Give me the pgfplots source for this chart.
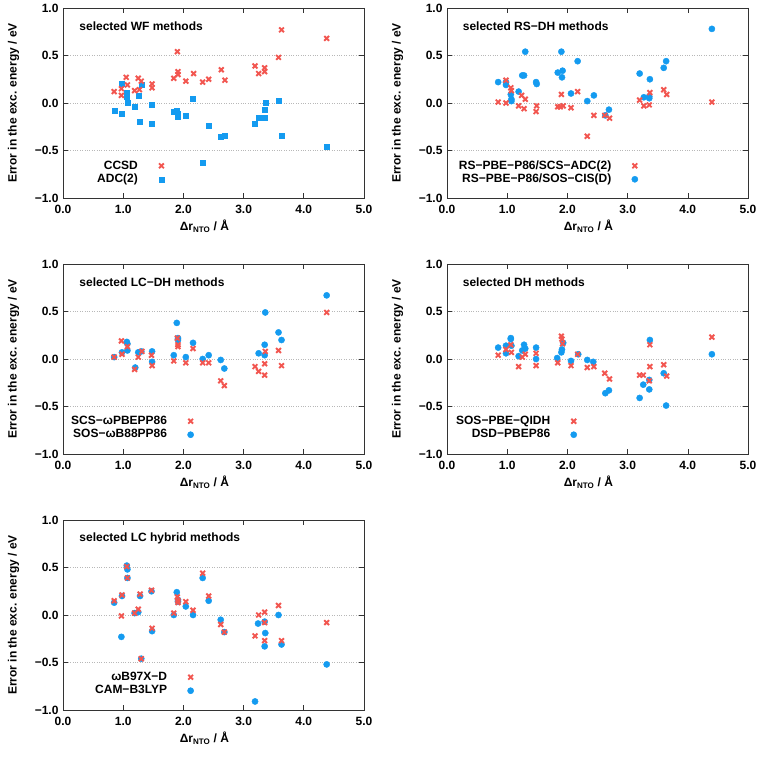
\documentclass[border=0pt]{standalone}
\usepackage{fontspec}
\setmainfont{Liberation Sans}
\usepackage{pgfplots}
\pgfplotsset{compat=1.18}
\definecolor{myred}{RGB}{242,86,80}
\definecolor{myblue}{RGB}{20,155,240}
\newcommand{\lbl}{\fontsize{12}{14}\selectfont\bfseries}
\tikzset{ttl/.style={anchor=west, font=\lbl, inner sep=0pt}}
\pgfplotsset{
 panel/.style={
  scale only axis, width=301pt, height=190pt,
  xmin=0, xmax=5, ymin=-1, ymax=1,
  xtick={0,1,2,3,4,5}, xticklabels={0.0,1.0,2.0,3.0,4.0,5.0},
  ytick={-1,-0.5,0,0.5,1}, yticklabels={−1.0,−0.5,0.0,0.5,1.0},
  tick align=inside, tick pos=both, major tick length=5pt,
  axis line style={black!80, line width=0.7pt}, tick style={black!80, line width=0.6pt},
  ymajorgrids, grid style={dotted, black!28, line width=0.6pt},
  ticklabel style={font=\lbl},
  xticklabel style={yshift=-3.5pt},
  yticklabel style={xshift=-1pt},
  xlabel={Δr\textsubscript{NTO} / Å},
  ylabel={Error in the exc. energy / eV},
  every axis x label/.style={at={(axis description cs:0.47,0)}, anchor=center, yshift=-28pt, font=\lbl},
  every axis y label/.style={at={(axis description cs:-0.164,0.5)}, anchor=center, rotate=90, font=\lbl},
  legend plot pos=right, legend cell align=right, reverse legend,
  legend style={draw=none, fill=none, font=\lbl, anchor=east, inner sep=0pt, row sep=1pt,
    nodes={inner sep=0.5pt, text height=9pt, text depth=2.5pt}},
  legend image code/.code={\path[draw=none,fill=none] (0cm,0cm) -- (0.81cm,0cm); \draw[#1] plot coordinates {(0.81cm,0cm)};},
 },
 redx/.style={only marks, mark=x, mark size=3.4pt, color=myred, mark options={line width=1.9pt}},
 bluesq/.style={only marks, mark=square*, mark size=2.5pt, color=myblue},
 bluec/.style={only marks, mark=*, mark size=3.1pt, color=myblue},
}
\begin{document}
\begin{tikzpicture}
% ---------------- Panel 1: WF ----------------
\begin{axis}[panel, at={(63pt,558pt)}, anchor=south west, legend style={at={(0.336,0.134)}}]
\addplot[bluesq] table {
x y
0.97 0.20
0.86 -0.08
0.98 -0.11
1.06 0.11
1.06 0.07
1.07 0.00
1.19 -0.04
1.25 0.08
1.30 0.19
1.28 -0.20
1.48 -0.02
1.47 -0.22
1.84 -0.09
1.89 -0.08
1.91 -0.11
1.91 -0.14
2.04 -0.13
2.16 0.04
2.42 -0.24
2.32 -0.63
2.62 -0.35
2.68 -0.34
3.19 -0.22
3.25 -0.15
3.35 -0.15
3.35 -0.07
3.36 0.00
3.58 0.02
3.63 -0.34
4.38 -0.46
};
\addlegendentry{ADC(2)}
\addplot[redx] table {
x y
0.85 0.12
0.97 0.15
0.97 0.08
1.05 0.27
1.07 0.19
1.19 0.13
1.25 0.26
1.27 0.14
1.30 0.23
1.48 0.20
1.48 0.16
1.84 0.26
1.90 0.54
1.91 0.33
1.91 0.30
2.04 0.23
2.17 0.31
2.32 0.22
2.42 0.25
2.63 0.35
2.69 0.24
3.19 0.39
3.25 0.31
3.35 0.37
3.35 0.33
3.58 0.48
3.63 0.77
4.38 0.68
};
\addlegendentry{CCSD}
\node[ttl] at (rel axis cs:0.054,0.905) {selected WF methods};
\end{axis}
% ---------------- Panel 2: RS-DH ----------------
\begin{axis}[panel, at={(447pt,558pt)}, anchor=south west, legend style={at={(0.635,0.134)}}]
\addplot[bluec] table {
x y
0.85 0.22
0.98 0.22
0.98 0.19
1.06 0.09
1.07 0.04
1.07 0.02
1.19 0.12
1.25 0.29
1.28 0.29
1.30 0.54
1.48 0.22
1.49 0.20
1.84 0.32
1.90 0.54
1.92 0.34
1.91 0.27
2.06 0.10
2.17 0.44
2.33 0.02
2.44 0.08
2.63 -0.13
2.69 -0.07
3.20 0.31
3.27 0.06
3.36 0.07
3.36 0.05
3.37 0.25
3.60 0.37
3.64 0.44
4.40 0.78
};
\addlegendentry{RS−PBE−P86/SOS−CIS(D)}
\addplot[redx] table {
x y
0.85 0.01
0.98 0.24
0.98 0.00
1.06 0.16
1.07 0.13
1.19 -0.03
1.24 0.08
1.28 -0.06
1.30 0.04
1.49 -0.03
1.48 -0.09
1.84 -0.04
1.90 0.09
1.88 -0.04
1.93 -0.03
2.06 -0.05
2.17 0.12
2.33 -0.35
2.44 -0.13
2.62 -0.13
2.70 -0.16
3.20 0.03
3.27 -0.03
3.36 -0.02
3.37 0.11
3.60 0.14
3.65 0.09
4.40 0.01
};
\addlegendentry{RS−PBE−P86/SCS−ADC(2)}
\node[ttl] at (rel axis cs:0.052,0.905) {selected RS−DH methods};
\end{axis}
% ---------------- Panel 3: LC-DH ----------------
\begin{axis}[panel, at={(63pt,302pt)}, anchor=south west, legend style={at={(0.435,0.137)}}]
\addplot[bluec] table {
x y
0.85 0.02
0.98 0.07
1.06 0.18
1.07 0.16
1.07 0.09
1.20 -0.09
1.25 0.07
1.30 0.08
1.48 0.08
1.48 -0.03
1.84 0.04
1.89 0.38
1.91 0.22
1.91 0.20
2.04 0.02
2.16 0.17
2.32 0.00
2.42 0.04
2.62 -0.01
2.68 -0.10
3.25 0.06
3.35 0.04
3.35 0.15
3.36 0.49
3.58 0.28
3.63 0.20
4.38 0.67
};
\addlegendentry{SOS−ωB88PP86}
\addplot[redx] table {
x y
0.85 0.02
0.97 0.19
0.98 0.05
1.07 0.13
1.19 -0.11
1.25 0.02
1.31 0.08
1.47 0.04
1.48 -0.07
1.84 -0.02
1.90 0.22
1.91 0.15
1.91 0.13
2.04 -0.04
2.16 0.11
2.32 -0.04
2.42 -0.04
2.62 -0.23
2.68 -0.28
3.19 -0.08
3.25 -0.13
3.35 -0.17
3.35 -0.05
3.36 0.08
3.58 0.09
3.63 -0.07
4.38 0.49
};
\addlegendentry{SCS−ωPBEPP86}
\node[ttl] at (rel axis cs:0.054,0.905) {selected LC−DH methods};
\end{axis}
% ---------------- Panel 4: DH ----------------
\begin{axis}[panel, at={(447pt,302pt)}, anchor=south west, legend style={at={(0.432,0.137)}}]
\addplot[bluec] table {
x y
0.85 0.12
0.98 0.14
0.98 0.06
1.06 0.22
1.06 0.21
1.07 0.14
1.19 0.03
1.25 0.09
1.28 0.15
1.30 0.11
1.48 0.12
1.48 0.00
1.83 0.01
1.90 0.07
1.91 0.10
1.93 0.17
2.06 -0.02
2.18 0.05
2.33 -0.01
2.43 -0.03
2.63 -0.36
2.69 -0.33
3.20 -0.41
3.26 -0.27
3.36 -0.22
3.36 -0.32
3.37 0.20
3.60 -0.15
3.64 -0.49
4.40 0.05
};
\addlegendentry{DSD−PBEP86}
\addplot[redx] table {
x y
0.85 0.04
0.98 0.10
1.06 0.15
1.07 0.07
1.19 -0.08
1.25 0.02
1.30 0.05
1.48 0.06
1.48 -0.07
1.84 -0.04
1.90 0.24
1.91 0.21
1.92 0.16
2.06 -0.07
2.17 0.05
2.33 -0.09
2.44 -0.08
2.62 -0.15
2.70 -0.21
3.20 -0.17
3.26 -0.17
3.37 -0.08
3.37 0.15
3.36 -0.23
3.60 -0.06
3.65 -0.18
4.40 0.23
};
\addlegendentry{SOS−PBE−QIDH}
\node[ttl] at (rel axis cs:0.052,0.905) {selected DH methods};
\end{axis}
% ---------------- Panel 5: LC hybrid ----------------
\begin{axis}[panel, at={(63pt,46pt)}, anchor=south west, legend style={at={(0.435,0.137)}}]
\addplot[bluec] table {
x y
0.85 0.13
0.97 -0.23
0.98 0.20
1.06 0.52
1.07 0.48
1.07 0.39
1.19 0.02
1.25 0.03
1.28 0.20
1.30 -0.46
1.47 0.25
1.48 -0.17
1.84 0.00
1.89 0.24
1.91 0.16
1.91 0.14
2.04 0.09
2.16 0.00
2.32 0.39
2.42 0.15
2.62 -0.05
2.68 -0.18
3.19 -0.91
3.24 -0.09
3.35 -0.07
3.36 -0.19
3.35 -0.33
3.58 0.00
3.63 -0.31
4.38 -0.52
};
\addlegendentry{CAM−B3LYP}
\addplot[redx] table {
x y
0.85 0.15
0.97 -0.01
0.98 0.21
1.06 0.51
1.07 0.39
1.19 0.02
1.25 0.06
1.28 0.22
1.30 -0.46
1.47 0.26
1.48 -0.14
1.84 0.02
1.90 0.19
1.91 0.15
1.91 0.13
2.04 0.14
2.16 0.05
2.32 0.44
2.42 0.20
2.62 -0.10
2.68 -0.18
3.19 -0.22
3.25 0.00
3.35 0.03
3.35 -0.08
3.35 -0.27
3.58 0.10
3.63 -0.27
4.38 -0.08
};
\addlegendentry{ωB97X−D}
\node[ttl] at (rel axis cs:0.054,0.905) {selected LC hybrid methods};
\end{axis}
\pgfresetboundingbox
\useasboundingbox (0pt,0pt) rectangle (766pt,756pt);
\end{tikzpicture}
\end{document}
